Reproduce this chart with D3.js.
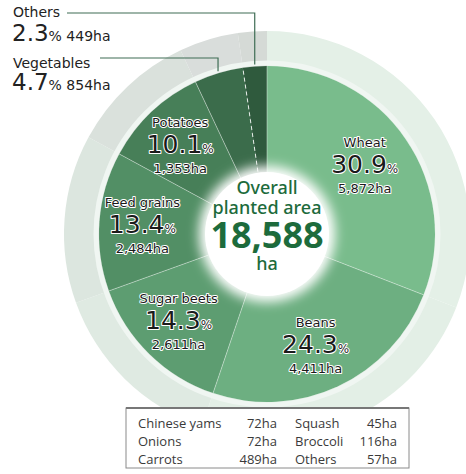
<!DOCTYPE html>
<html>
<head>
  <title>Overall planted area donut</title>
  <style>
    body { margin: 0; background: #fff; }
    svg { display: block; }
  </style>
</head>
<body>
  <svg id="chart" width="466" height="474"></svg>

  <script src="https://cdn.jsdelivr.net/npm/d3@7/dist/d3.min.js"></script>

  <script>
    // crop shares (clockwise from 12 o'clock)
    const crops = ['Wheat', 'Beans', 'Sugar beets', 'Feed grains', 'Potatoes', 'Vegetables', 'Others'];
    const shares = [30.9, 24.3, 14.3, 13.4, 10.1, 4.7, 2.3];
    const hectares = ['5,872', '4,411', '2,611', '2,484', '1,353', '854', '449'];

    const totalArea = '18,588';

    // vegetable breakdown table
    const vegNames = ['Chinese yams', 'Onions', 'Carrots', 'Squash', 'Broccoli', 'Others'];
    const vegHa = [72, 72, 489, 45, 116, 57];

    const fills = ['#79bc8c', '#6daf81', '#5d9d71', '#528f65', '#477f58', '#3b6c4b', '#2f5a3d'];
    const ringFills = ['#e4f0e7', '#e3efe6', '#dfeae2', '#dce6df', '#dae1dc', '#d9dddb', '#d5dad6'];

    const cx = 267, cy = 234;
    const rPie = 168, rRing = 203, rHole = 60;

    const svg = d3.select('#chart');
    const defs = svg.append('defs');

    defs.append('filter').attr('id', 'glow')
      .attr('x', '-50%').attr('y', '-50%').attr('width', '200%').attr('height', '200%')
      .append('feGaussianBlur').attr('stdDeviation', 6);

    const pie = d3.pie().sort(null).value(d => d)(shares);

    const g = svg.append('g').attr('transform', `translate(${cx},${cy})`);

    // outer light ring
    const ringArc = d3.arc().innerRadius(rPie).outerRadius(rRing);
    g.selectAll('.ring')
      .data(pie)
      .enter()
      .append('path')
      .attr('class', 'ring')
      .attr('d', ringArc)
      .attr('fill', (d, i) => ringFills[i]);

    // thin pale band at the inner edge of the ring
    g.append('circle')
      .attr('r', rPie + 3)
      .attr('fill', 'none')
      .attr('stroke', '#f0f6f2')
      .attr('stroke-width', 5);

    // main slices
    const arc = d3.arc().innerRadius(0).outerRadius(rPie);
    g.selectAll('.slice')
      .data(pie)
      .enter()
      .append('path')
      .attr('class', 'slice')
      .attr('d', arc)
      .attr('fill', (d, i) => fills[i]);

    // slice dividers
    g.selectAll('.divider')
      .data(pie)
      .enter()
      .append('line')
      .attr('class', 'divider')
      .attr('x1', 0).attr('y1', 0)
      .attr('x2', d => rPie * Math.sin(d.startAngle))
      .attr('y2', d => -rPie * Math.cos(d.startAngle))
      .attr('stroke', '#ffffff')
      .attr('stroke-opacity', (d, i) => i === 6 ? 0.85 : 0.4)
      .attr('stroke-dasharray', (d, i) => i === 6 ? '4,3' : null)
      .attr('stroke-width', 1);

    // white centre with soft glow
    g.append('circle').attr('r', rHole + 8).attr('fill', '#fff').attr('filter', 'url(#glow)');
    g.append('circle').attr('r', rHole + 2).attr('fill', '#fff');

    // centre text
    const centre = g.append('g').attr('fill', '#1d6b3c').attr('text-anchor', 'middle')
      .style('font-family', '"Noto Sans", sans-serif');
    centre.append('text').attr('y', -40).style('font-size', '18px').style('font-weight', 500).text('Overall');
    centre.append('text').attr('y', -20).style('font-size', '18px').style('font-weight', 500).text('planted area');
    centre.append('text').attr('y', 14).style('font-size', '36px').style('font-weight', 700).text(totalArea);
    centre.append('text').attr('y', 36).style('font-size', '18px').style('font-weight', 500).text('ha');

    // labels inside the big slices
    const labelArc = d3.arc().innerRadius(122).outerRadius(122);
    const labels = g.selectAll('.label')
      .data(pie.slice(0, 5))
      .enter()
      .append('g')
      .attr('class', 'label')
      .attr('transform', d => {
        const [x, y] = labelArc.centroid(d);
        return `translate(${x - 3},${y})`;
      })
      .attr('text-anchor', 'middle')
      .style('font-family', '"DejaVu Sans", sans-serif')
      .attr('fill', '#1b1b1b')
      .attr('stroke', '#ffffff')
      .attr('stroke-width', 2)
      .attr('stroke-linejoin', 'round')
      .style('paint-order', 'stroke');

    labels.append('text')
      .attr('y', -18)
      .style('font-size', '13px')
      .text((d, i) => crops[i]);

    const pct = labels.append('text').attr('y', 8);
    pct.append('tspan').style('font-size', '25px').text((d, i) => shares[i].toFixed(1));
    pct.append('tspan').style('font-size', '12px').text('%');

    labels.append('text')
      .attr('y', 28)
      .style('font-size', '13px')
      .text((d, i) => hectares[i] + 'ha');

    // callouts for the two small slices
    const callouts = [
      { i: 6, nameY: 17, valY: 41, lineY: 13, lineX0: 67 },
      { i: 5, nameY: 68, valY: 90, lineY: 58, lineX0: 100 }
    ];
    callouts.forEach(c => {
      const d = pie[c.i];
      const mid = (d.startAngle + d.endAngle) / 2;
      const px = cx + (rPie + 2) * Math.sin(mid);
      const py = cy - (rPie + 2) * Math.cos(mid);
      svg.append('path')
        .attr('d', `M${c.lineX0},${c.lineY}H${px}V${py}`)
        .attr('fill', 'none')
        .attr('stroke', '#3f6d55')
        .attr('stroke-width', 1.2);
      svg.append('text')
        .attr('x', 13).attr('y', c.nameY)
        .style('font-family', '"DejaVu Sans", sans-serif')
        .style('font-size', '14px')
        .attr('fill', '#222')
        .text(crops[c.i]);
      const t = svg.append('text')
        .attr('x', 12).attr('y', c.valY)
        .style('font-family', '"DejaVu Sans", sans-serif')
        .attr('fill', '#222');
      t.append('tspan').style('font-size', '23px').text(shares[c.i].toFixed(1));
      t.append('tspan').style('font-size', '14px').text('% ' + hectares[c.i] + 'ha');
    });

    // vegetable breakdown box
    const box = svg.append('g').attr('transform', 'translate(126,408)');
    box.append('rect')
      .attr('width', 283).attr('height', 60)
      .attr('fill', '#fff')
      .attr('stroke', '#8a8a8a')
      .attr('stroke-width', 1);
    box.append('line').attr('x1', 0).attr('x2', 283).attr('y1', 0).attr('y2', 0)
      .attr('stroke', '#777').attr('stroke-width', 2);

    const colX = [12, 169];
    const colR = [151, 271];
    const rowY = d3.scaleBand().domain(d3.range(3)).range([6, 60]);
    const cells = box.selectAll('.cell')
      .data(vegNames.map((n, i) => ({ n, ha: vegHa[i], col: Math.floor(i / 3), row: i % 3 })))
      .enter()
      .append('g')
      .attr('class', 'cell')
      .style('font-family', '"Open Sans", sans-serif')
      .style('font-size', '13px')
      .attr('fill', '#3a3a3a');
    cells.append('text')
      .attr('x', d => colX[d.col])
      .attr('y', d => rowY(d.row) + 14)
      .text(d => d.n);
    cells.append('text')
      .attr('x', d => colR[d.col])
      .attr('y', d => rowY(d.row) + 14)
      .attr('text-anchor', 'end')
      .text(d => d.ha + 'ha');
  </script>
</body>
</html>
